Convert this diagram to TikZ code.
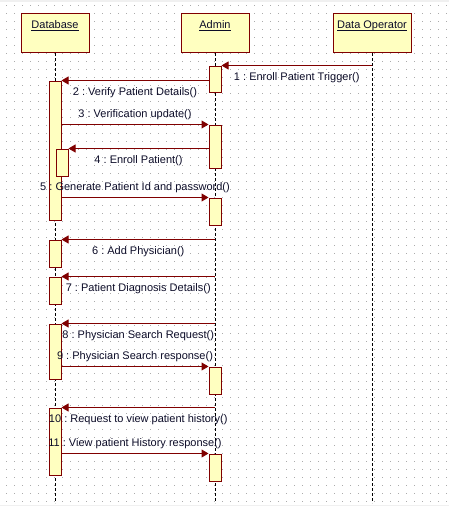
\documentclass[tikz,border=0pt]{standalone}
\usepackage{fontspec}
\setmainfont{Liberation Sans}
\usetikzlibrary{arrows.meta}
\definecolor{barfill}{HTML}{FFFFC0}
\definecolor{barline}{HTML}{800000}
\definecolor{labeltext}{HTML}{0C0C28}
\definecolor{griddot}{HTML}{ABABAB}
\newcommand{\headlabel}[1]{\underline{\raisebox{0pt}[\height][0pt]{#1}}}
\frenchspacing

\begin{document}
\begin{tikzpicture}[x = 1pt, y = -1pt, font = \fontsize{11}{13}\selectfont,
  head/.style = {rectangle, draw = barline, fill = barfill, line width = 1pt, minimum width = 68pt, text height = 8pt, text depth = 17pt, inner ysep = 7pt, text = labeltext},
  bar/.style = {rectangle, draw = barline, fill = barfill, line width = 1pt, minimum width = 12pt, inner sep = 0pt},
  lifeline/.style = {draw = black, line width = 1pt, dash pattern = on 3pt off 2pt},
  msg/.style = {draw = barline, line width = 1pt, -{Triangle[length = 7pt, width = 8pt]}},
  lbl/.style = {text = labeltext, inner sep = 0pt, anchor = base}]

	\useasboundingbox (0, 0) rectangle (449, 506);
	\fill[gray!12] (0, 0) rectangle (449, 2);
	\fill[gray!12] (0, 505) rectangle (449, 506);
	\foreach \x in {6, 14, ..., 446}
		\foreach \y in {5, 13, ..., 501}
			\fill[griddot] (\x, \y) rectangle ++(1, 1);

	\node (DB) at ( 55, 13) [head, anchor = north] {\headlabel{Database}};
	\node (AD) at (215, 13) [head, anchor = north] {\headlabel{Admin}};
	\node (DO) at (372, 13) [head, anchor = north, minimum width = 78pt] {\headlabel{Data Operator}};

	\coordinate (bottom) at (0, 503);
	\foreach \h in {DB, AD, DO}
		\draw[lifeline] (\h.south) -- (\h.south |- bottom);

	\node (A1) at (215,  79.0) [bar, minimum height = 26pt] {};
	\node (A2) at (215, 146.5) [bar, minimum height = 43pt] {};
	\node (A3) at (215, 211.5) [bar, minimum height = 27pt] {};
	\node (A4) at (215, 380.5) [bar, minimum height = 27pt] {};
	\node (A5) at (215, 467.5) [bar, minimum height = 27pt] {};
	\node (D1) at ( 55, 150.5) [bar, minimum height = 139pt] {};
	\node (D2) at ( 62, 162.5) [bar, minimum height = 27pt] {};
	\node (D3) at ( 55, 253.5) [bar, minimum height = 27pt] {};
	\node (D4) at ( 55, 290.5) [bar, minimum height = 27pt] {};
	\node (D5) at ( 55, 351.5) [bar, minimum height = 55pt] {};
	\node (D6) at ( 55, 441.5) [bar, minimum height = 67pt] {};

	\foreach \from/\to/\txt in {DO/A1/{1 : Enroll Patient Trigger()}, A1.west/D1/{2 : Verify Patient Details()},
	A2.west/D2/{4 : Enroll Patient()}, AD/D3/{6 : Add Physician()}, AD/D4/{7 : Patient Diagnosis Details()},
	AD/D5/{8 : Physician Search Request()}, AD/D6/{10 : Request to view patient history()}}
		\draw[msg] (\from |- \to.north) -- (\to.north east) node[lbl, midway, yshift = -15pt] {\txt};
	\foreach \from/\to/\txt in {D1/A2/{3 : Verification update()}, D1/A3/{5 : Generate Patient Id and password()},
	D5/A4/{9 : Physician Search response()}, D6/A5/{11 : View patient History response()}}
		\draw[msg] (\from.east |- \to.north) -- (\to.north west) node[lbl, midway, yshift = 7pt] {\txt};

\end{tikzpicture}
\end{document}
